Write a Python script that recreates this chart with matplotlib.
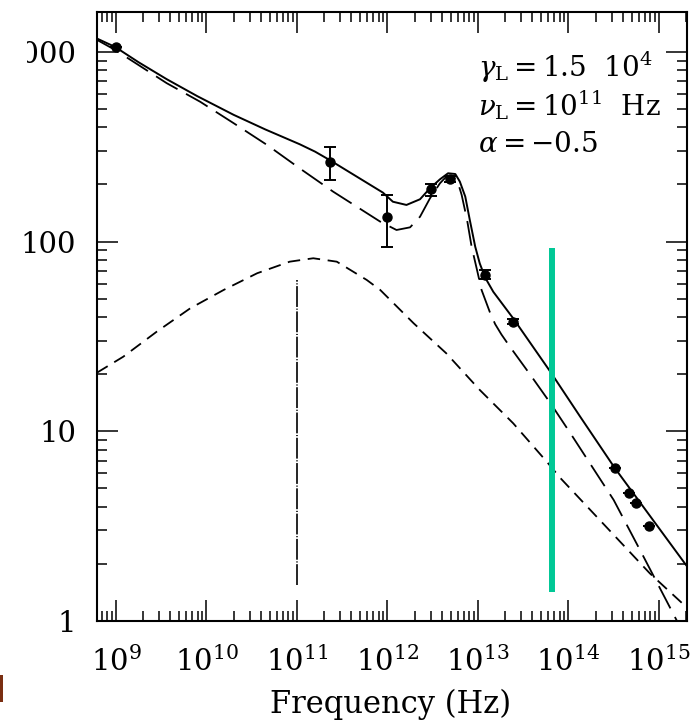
import matplotlib
matplotlib.use('Agg')
import matplotlib.pyplot as plt
import numpy as np
from matplotlib.ticker import LogLocator, FixedLocator, NullFormatter, FuncFormatter
from matplotlib.patches import Rectangle

plt.rcParams['font.family'] = ['DejaVu Serif']
plt.rcParams['mathtext.fontset'] = 'dejavuserif'
plt.rcParams['lines.scale_dashes'] = False

# ---- total model (solid), log10 values ----
total_lognu = [8.79, 8.99, 9.25, 9.56, 9.90, 10.30, 10.65, 11.03, 11.20, 11.36,
               11.95, 12.06, 12.21, 12.36, 12.47, 12.58, 12.67, 12.75, 12.80,
               12.86, 12.91, 12.97, 13.02, 13.08, 13.17, 13.28, 13.39, 13.80,
               14.13, 14.51, 15.30]
total_logf = [3.070, 3.026, 2.945, 2.856, 2.766, 2.668, 2.591, 2.513, 2.474, 2.430,
              2.258, 2.210, 2.193, 2.223, 2.281, 2.328, 2.360, 2.356, 2.316,
              2.237, 2.114, 1.973, 1.885, 1.810, 1.735, 1.665, 1.595, 1.314,
              1.077, 0.808, 0.295]

# ---- long-dashed component ----
comp1_lognu = [8.79, 8.99, 9.56, 9.93, 10.30, 10.67, 11.03, 11.40, 11.92, 12.10,
               12.25, 12.36, 12.47, 12.58, 12.65, 12.71, 12.77, 12.82, 12.88,
               12.93, 12.99, 13.04, 13.13, 13.19, 13.26, 13.35, 13.58, 13.80,
               14.02, 14.50, 14.83, 15.20]
comp1_logf = [3.063, 3.010, 2.835, 2.737, 2.624, 2.509, 2.386, 2.263, 2.105, 2.061,
              2.075, 2.131, 2.228, 2.307, 2.342, 2.346, 2.325, 2.246, 2.114,
              1.973, 1.850, 1.745, 1.630, 1.565, 1.510, 1.448, 1.297, 1.149,
              0.991, 0.638, 0.339, 0.0]

# ---- short-dashed component ----
comp2_lognu = [8.79, 9.08, 9.45, 9.82, 10.19, 10.56, 10.92, 11.18, 11.44, 11.77,
               11.92, 12.29, 12.65, 13.02, 13.39, 13.76, 13.91, 14.90, 15.30]
comp2_logf = [1.309, 1.393, 1.525, 1.648, 1.745, 1.833, 1.894, 1.912, 1.894, 1.798,
              1.745, 1.569, 1.411, 1.218, 1.042, 0.840, 0.754, 0.251, 0.075]

# ---- observed points ----
obs_nu = [1.0e9, 2.3e11, 1.0e12, 3.0e12, 4.9e12, 1.2e13, 2.46e13,
          3.27e14, 4.67e14, 5.57e14, 7.8e14]
obs_flux = [1065, 264, 135, 189, 214, 67, 37.8, 6.43, 4.75, 4.19, 3.18]
obs_low = [1065, 211, 94, 174, 206, 63.5, 36.6, 6.43, 4.75, 4.19, 3.18]
obs_high = [1065, 316, 176, 200, 222, 71, 39.0, 6.43, 4.75, 4.19, 3.18]

# ---- vertical markers ----
nu_L = 1e11
nuL_range = [1.55, 62.8]
green_nu = 6.6e13
green_range = [1.42, 92.5]

xticks_exp = [9, 10, 11, 12, 13, 14, 15]
yticks = [1, 10, 100, 1000]
annot = [r'$\gamma_{\mathrm{L}}=1.5\ \ 10^{4}$',
         r'$\nu_{\mathrm{L}}=10^{11}\ \ \mathrm{Hz}$',
         r'$\alpha=-0.5$']

W, H = 699, 722
fig = plt.figure(figsize=(W / 100, H / 100), dpi=100)
ax = fig.add_axes([97 / W, (H - 621) / H, (686.5 - 97) / W, (621 - 12) / H])
ax.set_xscale('log')
ax.set_yscale('log')

ax.plot(10 ** np.array(total_lognu), 10 ** np.array(total_logf), color='k', lw=1.4)
ax.plot(10 ** np.array(comp1_lognu), 10 ** np.array(comp1_logf), color='k', lw=1.3,
        dashes=(18, 7))
ax.plot(10 ** np.array(comp2_lognu), 10 ** np.array(comp2_logf), color='k', lw=1.3,
        dashes=(9, 5.5))
ax.plot([nu_L, nu_L], nuL_range, color='k', lw=1.2, dashes=(15, 1.2, 0.8, 1.2))
ax.plot([green_nu, green_nu], green_range, color='#00C896', lw=4.3,
        solid_capstyle='butt')

obs_flux_a = np.array(obs_flux)
yerr = [obs_flux_a - np.array(obs_low), np.array(obs_high) - obs_flux_a]
ax.errorbar(obs_nu, obs_flux, yerr=yerr, fmt='o', color='k', ms=6.5,
            capsize=4.5, elinewidth=1.4, capthick=1.4)

ax.set_xlim(10 ** 8.79, 10 ** 15.305)
ax.set_ylim(1, 10 ** 3.21)

ax.xaxis.set_major_locator(FixedLocator([10.0 ** e for e in xticks_exp]))
ax.xaxis.set_major_formatter(FuncFormatter(lambda v, p: r'$10^{%d}$' % round(np.log10(v))))
ax.xaxis.set_minor_locator(LogLocator(base=10, subs=np.arange(2, 10), numticks=50))
ax.xaxis.set_minor_formatter(NullFormatter())
ax.yaxis.set_major_locator(FixedLocator(yticks))
ax.yaxis.set_major_formatter(FuncFormatter(lambda v, p: '%d' % round(v)))
ax.yaxis.set_minor_locator(LogLocator(base=10, subs=np.arange(2, 10), numticks=50))
ax.yaxis.set_minor_formatter(NullFormatter())

ax.tick_params(which='both', direction='in', top=True, right=True, width=1.1,
               labelsize=21)
ax.tick_params(which='major', length=15)
ax.tick_params(which='minor', length=7)
ax.tick_params(axis='y', which='major', pad=15)
ax.tick_params(axis='x', which='major', pad=18)
for s in ax.spines.values():
    s.set_linewidth(1.5)

fig.text(391 / W, (H - 713) / H, 'Frequency (Hz)', ha='center', va='baseline',
         fontsize=22)

ys = [76.7, 116, 151.7]
for t, y in zip(annot, ys):
    fig.text(478 / W, (H - y) / H, t, ha='left', va='baseline', fontsize=20)

# page-crop artifacts at the left edge
fig.patches.append(Rectangle((0, (H - 72) / H), 27 / W, 42 / H, transform=fig.transFigure,
                             facecolor='white', edgecolor='none', zorder=10))
fig.patches.append(Rectangle((0, (H - 702) / H), 3 / W, 27 / H, transform=fig.transFigure,
                             facecolor='#7a2e12', edgecolor='none', zorder=10))

fig.savefig('out.png', dpi=100)
